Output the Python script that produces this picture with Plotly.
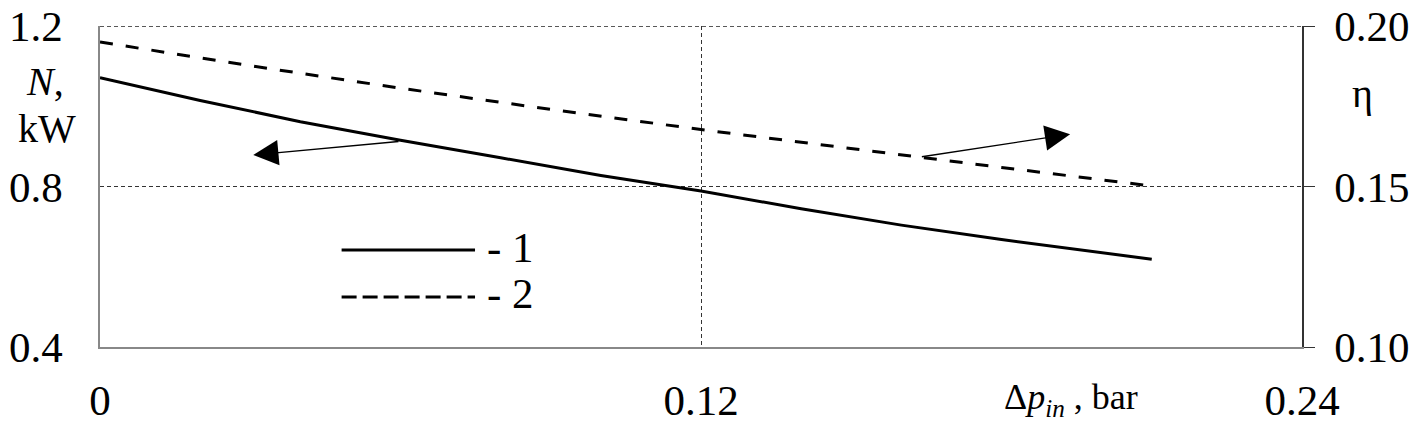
import plotly.graph_objects as go

# pressure drop at inlet, bar
dp_power = [0, 0.02, 0.04, 0.06, 0.08, 0.10, 0.12, 0.14, 0.16, 0.18, 0.21]
power_kw = [1.072, 1.015, 0.962, 0.916, 0.872, 0.828, 0.789, 0.745, 0.704, 0.668, 0.619]

dp_eff = [0, 0.03, 0.06, 0.09, 0.12, 0.15, 0.18, 0.21]
efficiency = [0.1951, 0.1877, 0.1807, 0.1741, 0.1678, 0.1618, 0.1560, 0.1502]

x_ticks = [0, 0.12, 0.24]
x_ticktext = ["0", "0.12", "0.24"]
n_ticks = [0.4, 0.8, 1.2]
eta_ticks = [0.10, 0.15, 0.20]

FONT = "Liberation Serif"
GRID = dict(color="#333", width=1, dash="4px,3px")

fig = go.Figure()
fig.add_trace(go.Scatter(x=dp_power, y=power_kw, mode="lines",
                         line=dict(color="black", width=3), yaxis="y"))
fig.add_trace(go.Scatter(x=dp_eff, y=efficiency, mode="lines",
                         line=dict(color="black", width=3, dash="13px,13px"),
                         yaxis="y2"))

# page body has an 8px margin, so the figure is a bit smaller than the window
fig.update_layout(
    width=1417, height=418,
    margin=dict(l=92, r=123, t=18, b=79),
    plot_bgcolor="white", paper_bgcolor="white",
    showlegend=False,
    font=dict(family=FONT, size=43, color="black"),
    xaxis=dict(range=[0, 0.24], tickvals=x_ticks, ticktext=x_ticktext,
               showgrid=True, gridcolor=GRID["color"], gridwidth=1, griddash=GRID["dash"],
               showline=True, linecolor="#888", linewidth=1.5, automargin=False,
               zeroline=False, ticks="", ticklabelstandoff=15, ticklabeloverflow="allow"),
    # tops nudged past 1.2 / 0.20 so those tick labels are kept
    yaxis=dict(range=[0.4, 1.2008], tickvals=n_ticks, tickformat=".1f",
               showgrid=True, gridcolor=GRID["color"], gridwidth=1, griddash=GRID["dash"],
               showline=True, linecolor="#888", linewidth=1.5, automargin=False,
               zeroline=False, ticks="", ticklabelstandoff=27, ticklabeloverflow="allow"),
    yaxis2=dict(range=[0.10, 0.2001], tickvals=eta_ticks, tickformat=".2f",
                overlaying="y", side="right", showgrid=False,
                showline=True, linecolor="#333", linewidth=1.5, automargin=False,
                ticks="outside", ticklen=11, tickcolor="#333",
                zeroline=False, ticklabelstandoff=11, ticklabeloverflow="allow"),
)

# grid line at the top edge (plotly drops it at the range end)
fig.add_shape(type="line", xref="paper", yref="y", x0=0, x1=1, y0=1.2, y1=1.2,
              line=GRID, layer="below")

# axis titles
fig.add_annotation(text="<i>N</i>,", xref="paper", yref="paper", x=-0.046, y=0.826,
                   xanchor="center", yanchor="middle", showarrow=False, font=dict(size=40))
fig.add_annotation(text="kW", xref="paper", yref="paper", x=-0.044, y=0.682,
                   xanchor="center", yanchor="middle", showarrow=False, font=dict(size=40))
fig.add_annotation(text="η", xref="paper", yref="paper", x=1.05, y=0.79,
                   xanchor="center", yanchor="middle", showarrow=False, font=dict(size=40))
fig.add_annotation(text="Δ<i>p</i><sub><i>in</i></sub> , bar", xref="paper", yref="paper",
                   x=0.808, y=-0.165, xanchor="center", yanchor="middle",
                   showarrow=False, font=dict(size=36))

# arrows pointing to the matching axis
fig.add_annotation(x=0.0306, y=0.879, ax=0.0599, ay=0.913, xref="x", yref="y",
                   axref="x", ayref="y", text="", showarrow=True,
                   arrowhead=2, arrowsize=3.6, arrowwidth=1.4, arrowcolor="black")
fig.add_annotation(x=0.1937, y=0.931, ax=0.1638, ay=0.874, xref="x", yref="y",
                   axref="x", ayref="y", text="", showarrow=True,
                   arrowhead=2, arrowsize=3.6, arrowwidth=1.4, arrowcolor="black")

# hand-drawn legend
fig.add_shape(type="line", xref="paper", yref="paper", x0=0.201, x1=0.312,
              y0=0.302, y1=0.302, line=dict(color="black", width=3))
fig.add_shape(type="line", xref="paper", yref="paper", x0=0.201, x1=0.312,
              y0=0.156, y1=0.156, line=dict(color="black", width=3, dash="15px,6px"))
fig.add_annotation(text="- 1", xref="paper", yref="paper", x=0.320, y=0.311,
                   xanchor="left", yanchor="middle", showarrow=False, font=dict(size=43))
fig.add_annotation(text="- 2", xref="paper", yref="paper", x=0.320, y=0.168,
                   xanchor="left", yanchor="middle", showarrow=False, font=dict(size=43))

fig.write_html("out.html")
